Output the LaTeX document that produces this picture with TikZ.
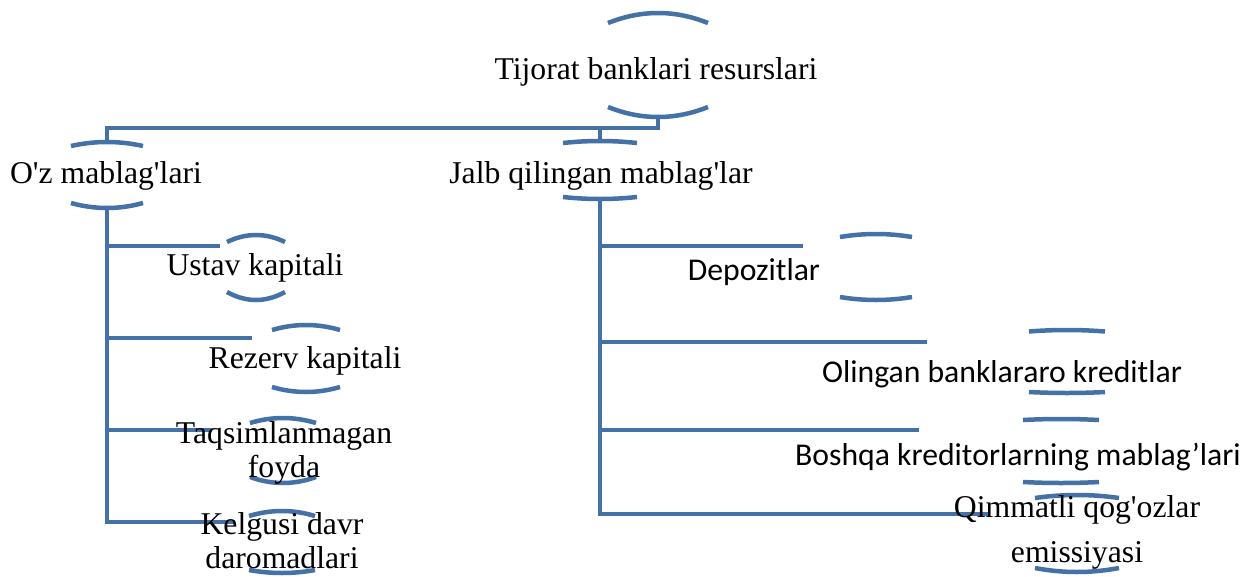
\documentclass[tikz,border=0pt]{standalone}
\usepackage{fontspec}
\setmainfont{Liberation Serif}[Ligatures=TeXOff]
\newfontfamily\calfont{Carlito}
\definecolor{lineblue}{RGB}{68,114,166}
\tikzset{
  ln/.style={draw=lineblue, line width=4pt},
  arcln/.style={draw=lineblue, line width=4.5pt},
  lbl/.style={inner sep=0pt, anchor=base, font=\fontsize{31.7}{34}\selectfont, align=center},
  slbl/.style={lbl, font=\calfont\fontsize{31.7}{34}\selectfont},
}
% cx, half width, top-arc middle y, top sag, bottom-arc middle y, bottom sag
\newcommand\brk[6]{%
  \draw[arcln] ({#1-#2},{#3+#4}) .. controls ({#1-#2/3},{#3-#4/3}) and ({#1+#2/3},{#3-#4/3}) .. ({#1+#2},{#3+#4});
  \draw[arcln] ({#1-#2},{#5-#6}) .. controls ({#1-#2/3},{#5+#6/3}) and ({#1+#2/3},{#5+#6/3}) .. ({#1+#2},{#5-#6});}
\begin{document}
\begin{tikzpicture}[x=1pt,y=-1pt]
\useasboundingbox (0,0) rectangle (1259,576);
% anchor points of the brackets
\coordinate (rootB) at (658,117);
\coordinate (bus) at (658,128);
\coordinate (ozT) at (107,142);
\coordinate (ozB) at (107,208);
\coordinate (jalbT) at (600,141);
\coordinate (jalbB) at (600,199);
\coordinate (ustavL) at (220,246);
\coordinate (rezervL) at (252,338);
\coordinate (taqsimL) at (212,430);
\coordinate (kelgusiL) at (235,522);
\coordinate (depozL) at (803,246);
\coordinate (olinganL) at (927,342);
\coordinate (boshqaL) at (919,430);
\coordinate (qimmL) at (990,514);
% connectors
\draw[ln] (rootB) -- (bus) -| (ozT);
\draw[ln] (jalbT) |- (bus);
\draw[ln] (ozB) |- (kelgusiL);
\draw[ln] (ozB) |- (ustavL);
\draw[ln] (ozB) |- (rezervL);
\draw[ln] (ozB) |- (taqsimL);
\draw[ln] (jalbB) |- (qimmL);
\draw[ln] (jalbB) |- (depozL);
\draw[ln] (jalbB) |- (olinganL);
\draw[ln] (jalbB) |- (boshqaL);
% brackets
\brk{658}{50}{13}{10}{117}{10}
\brk{107}{36}{142}{4}{208}{5}
\brk{600}{37}{141}{2}{199}{2}
\brk{256}{29}{235}{7}{300}{8}
\brk{306}{34}{325}{5}{392}{5}
\brk{283}{33}{418}{5}{483}{6}
\brk{282}{33}{511}{5}{573}{3}
\brk{876}{36}{234}{3}{300}{3}
\brk{1067}{38}{330}{1.5}{393}{1}
\brk{1061}{38}{419}{1}{483}{1}
\brk{1077}{42}{495}{3}{572}{4}
% labels (multi-line labels are anchored at the baseline of their last line)
\node[lbl] (root) at (656,79) {Tijorat banklari resurslari};
\node[lbl] (oz) at (106,183) {O'z mablag'lari};
\node[lbl] (jalb) at (601,183) {Jalb qilingan mablag'lar};
\node[lbl] (ustav) at (255,275) {Ustav kapitali};
\node[lbl] (rezerv) at (305,368) {Rezerv kapitali};
\node[lbl] (taqsim) at (284,477) {Taqsimlanmagan\\foyda};
\node[lbl] (kelgusi) at (282,568) {Kelgusi davr\\daromadlari};
\node[slbl] (depoz) at (754,280) {Depozitlar};
\node[slbl] (olingan) at (1002,382) {Olingan banklararo kreditlar};
\node[slbl] (boshqa) at (1018,465) {Boshqa kreditorlarning mablag’lari};
\node[lbl, font=\fontsize{31.7}{45}\selectfont] (qimm) at (1077,562) {Qimmatli qog'ozlar\\emissiyasi};
\end{tikzpicture}
\end{document}
